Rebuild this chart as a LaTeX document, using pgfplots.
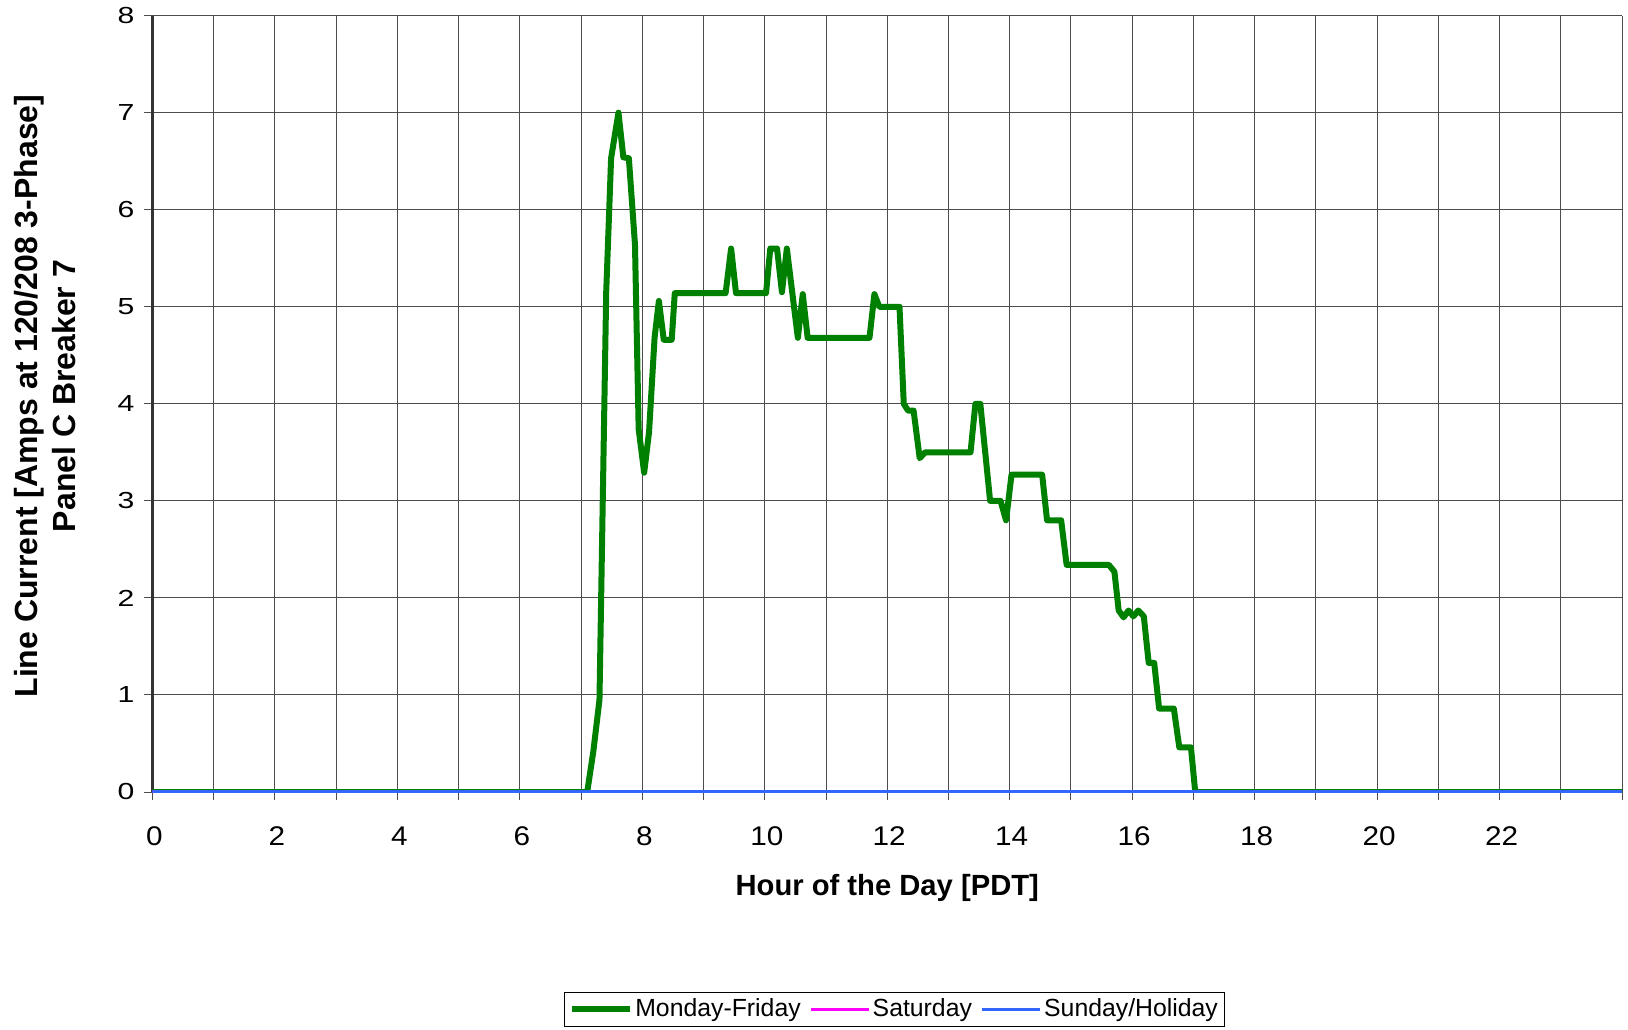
\documentclass[border=0pt]{standalone}
\usepackage{fontspec}
\setmainfont{Liberation Sans}
\newfontfamily\xtickfont[FakeStretch=1.1]{Liberation Sans}
\newfontfamily\ytickfont[FakeStretch=1.3]{Liberation Sans}
\usepackage{pgfplots}
\pgfplotsset{compat=1.18}

\definecolor{wkgreen}{RGB}{0,128,0}
\definecolor{satmag}{RGB}{255,0,255}
\definecolor{sunblue}{RGB}{51,102,255}

\begin{document}
\begin{tikzpicture}
\path[use as bounding box] (-76.25pt,-118.5pt) rectangle (737.75pt,396pt);
\begin{axis}[
  scale only axis,
  width=734.75pt, height=388.2pt,
  xmin=0, xmax=24, ymin=0, ymax=8,
  axis x line*=bottom, axis y line*=left,
  xtick={0,...,24},
  xticklabels={0,,2,,4,,6,,8,,10,,12,,14,,16,,18,,20,,22,,},
  ytick={0,...,7},
  extra y ticks={8},
  extra y tick style={grid style={black!45, line width=1pt}},
  grid=major,
  major grid style={black!70, line width=0.5pt},
  tick align=outside,
  major tick length=4pt,
  tick style={black!70, line width=0.5pt},
  x axis line style={black, line width=0.7pt},
  y axis line style={black!80, line width=1.1pt},
  /pgf/number format/assume math mode=true,
  xticklabel style={font=\xtickfont\fontsize{13.5}{16}\selectfont, yshift=-10pt, xshift=1pt},
  yticklabel style={font=\ytickfont\fontsize{11.6}{14}\selectfont, xshift=-1.5pt},
  xlabel={Hour of the Day [PDT]},
  ylabel={Line Current [Amps at 120/208 3-Phase]\\Panel C Breaker 7},
  every axis x label/.style={at={(axis description cs:0.5,-0.1231)}, anchor=center,
    font=\bfseries\fontsize{14.6}{17}\selectfont},
  every axis y label/.style={at={(axis description cs:-0.0728,0.51)}, anchor=center,
    rotate=90, align=center, font=\bfseries\fontsize{16}{19}\selectfont},
  legend columns=3,
  legend style={at={(axis description cs:0.505,0)}, anchor=north, yshift=-100pt,
    draw=black, line width=0.5pt, inner sep=2pt,
    font=\fontsize{12.4}{14}\selectfont,
    nodes={inner sep=1.2pt},
    /tikz/every even column/.append style={column sep=3pt}},
  legend image code/.code={\draw[#1] (0pt,0pt) -- (29pt,0pt);},
]
% weekday load profile
\addplot[wkgreen, line width=3pt, line join=round] coordinates {
  (0,0) (7.10,0) (7.20,0.42) (7.30,0.95) (7.41,5.15) (7.49,6.53)
  (7.61,7.00) (7.69,6.54) (7.78,6.53) (7.88,5.64) (7.94,3.74)
  (8.03,3.29) (8.11,3.71) (8.20,4.68) (8.27,5.06) (8.35,4.66)
  (8.48,4.66) (8.53,5.14) (9.36,5.14) (9.45,5.60) (9.53,5.14)
  (10.02,5.14) (10.09,5.60) (10.20,5.60) (10.28,5.15) (10.36,5.60)
  (10.54,4.68) (10.62,5.13) (10.70,4.68) (11.71,4.68) (11.79,5.13)
  (11.87,5.00) (12.20,5.00) (12.27,4.00) (12.34,3.93) (12.43,3.93)
  (12.53,3.44) (12.62,3.50) (13.36,3.50) (13.44,4.00) (13.52,4.00)
  (13.68,3.00) (13.85,3.00) (13.94,2.80) (14.03,3.27) (14.53,3.27)
  (14.61,2.80) (14.84,2.80) (14.93,2.34) (15.62,2.34) (15.71,2.27)
  (15.78,1.87) (15.86,1.80) (15.94,1.87) (16.02,1.81) (16.10,1.87)
  (16.19,1.81) (16.27,1.33) (16.36,1.33) (16.44,0.86) (16.68,0.86)
  (16.77,0.46) (16.96,0.46) (17.03,0.00) (24,0)
};
\addlegendentry{Monday-Friday}
% Saturday profile
\addplot[satmag, line width=1.6pt] coordinates {(0,0) (24,0)};
\addlegendentry{Saturday}
% Sunday / holiday profile
\addplot[sunblue, line width=1.7pt] coordinates {(0,0) (24,0)};
\addlegendentry{Sunday/Holiday}
\end{axis}
\end{tikzpicture}
\end{document}
